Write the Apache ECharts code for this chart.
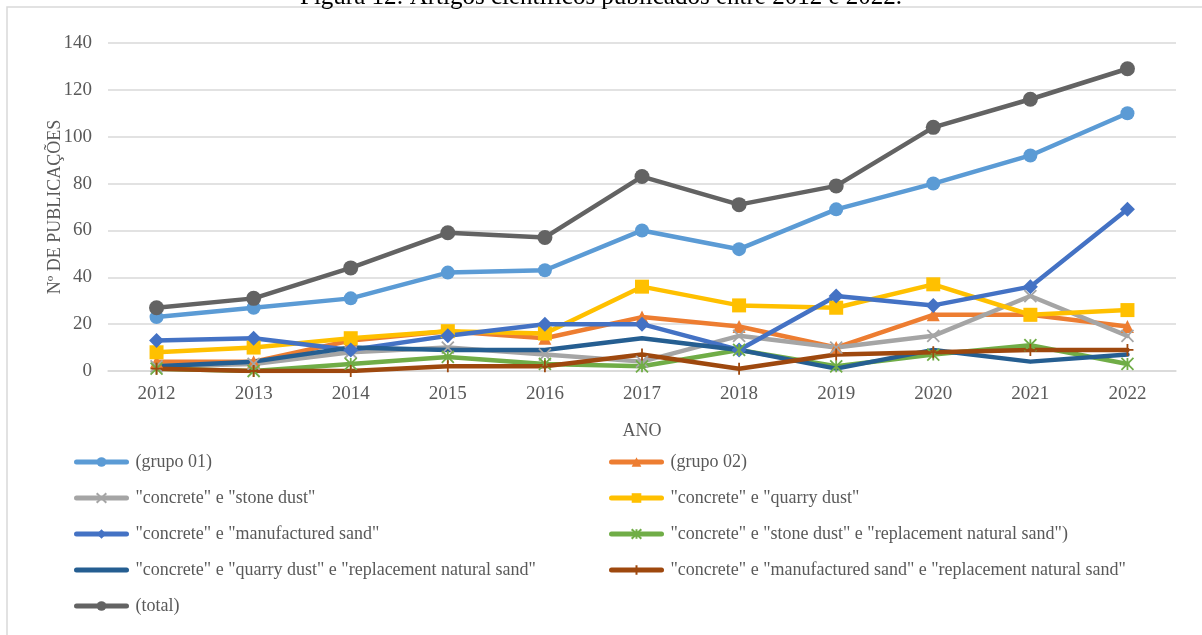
<!DOCTYPE html>
<html>
<head>
<meta charset="utf-8">
<title>Artigos científicos publicados entre 2012 e 2022</title>
<script src="https://cdn.jsdelivr.net/npm/echarts@6/dist/echarts.min.js"></script>
<style>
  html, body { margin: 0; padding: 0; background: #ffffff; }
  #chart { width: 1202px; height: 635px; }
</style>
</head>
<body>
<div id="chart"></div>
<script>
// Publication counts per year
const years = ['2012', '2013', '2014', '2015', '2016', '2017', '2018', '2019', '2020', '2021', '2022'];
const yTicks = [0, 20, 40, 60, 80, 100, 120, 140];

const grupo01     = [23, 27, 31, 42, 43, 60, 52, 69, 80, 92, 110];
const grupo02     = [4, 4, 13, 17, 14, 23, 19, 10, 24, 24, 19];
const stoneDust   = [2, 3, 8, 10, 7, 4, 15, 10, 15, 32, 15];
const quarryDust  = [8, 10, 14, 17, 16, 36, 28, 27, 37, 24, 26];
const manufSand   = [13, 14, 9, 15, 20, 20, 9, 32, 28, 36, 69];
const stoneRepl   = [1, 0, 3, 6, 3, 2, 9, 2, 7, 11, 3];
const quarryRepl  = [2, 4, 10, 9, 9, 14, 9, 1, 9, 4, 7];
const manufRepl   = [1, 0, 0, 2, 2, 7, 1, 7, 8, 9, 9];
const total       = [27, 31, 44, 59, 57, 83, 71, 79, 104, 116, 129];

const names = [
  '(grupo 01)',
  '(grupo 02)',
  '"concrete" e "stone dust"',
  '"concrete" e "quarry dust"',
  '"concrete" e "manufactured sand"',
  '"concrete" e "stone dust" e "replacement natural sand")',
  '"concrete" e "quarry dust" e "replacement natural sand"',
  '"concrete" e "manufactured sand" e "replacement natural sand"',
  '(total)'
];

const FONT = '"Liberation Serif", "DejaVu Serif", serif';
const TXT = '#595959';

const crossPath = 'path://M0,0L10,10M10,0L0,10';
const starPath = 'path://M0,0L10,10M10,0L0,10M5,0L5,10';
const plusPath = 'path://M5,-1L5,11M0,5L10,5';

function line(name, data, color, symbol, size, stroked) {
  const s = {
    name: name,
    type: 'line',
    data: data,
    symbol: symbol,
    symbolSize: size,
    showSymbol: symbol !== 'none',
    lineStyle: { color: color, width: 4.5, cap: 'round', join: 'round' },
    itemStyle: { color: color },
    emphasis: { disabled: true },
    animation: false
  };
  if (stroked) {
    s.itemStyle = { color: color, borderColor: color, borderWidth: 1.8 };
  }
  return s;
}

const series = [
  line(names[0], grupo01, '#5B9BD5', 'circle', 14),
  line(names[1], grupo02, '#ED7D31', 'triangle', 13),
  line(names[2], stoneDust, '#A5A5A5', crossPath, 12, true),
  line(names[3], quarryDust, '#FFC000', 'rect', 14),
  line(names[4], manufSand, '#4472C4', 'diamond', 15),
  line(names[5], stoneRepl, '#70AD47', starPath, 12, true),
  line(names[6], quarryRepl, '#255E91', 'none', 0),
  line(names[7], manufRepl, '#9E480E', plusPath, 12, true),
  line(names[8], total, '#636363', 'circle', 15)
];

const legendBase = {
  orient: 'vertical',
  top: 452,
  padding: 0,
  itemWidth: 50,
  itemHeight: 12,
  itemGap: 16,
  selectedMode: false,
  lineStyle: { width: 5, cap: 'round' },
  textStyle: { fontFamily: FONT, fontSize: 18, color: TXT, lineHeight: 20, padding: [0, 0, 0, 4] }
};

const chart = echarts.init(document.getElementById('chart'), null, { renderer: 'canvas' });
chart.setOption({
  backgroundColor: '#ffffff',
  animation: false,
  textStyle: { fontFamily: FONT },
  grid: { left: 108, right: 26, top: 43, bottom: 264 },
  legend: [
    Object.assign({}, legendBase, {
      left: 74,
      data: [names[0], names[2], names[4], { name: names[6], itemStyle: { opacity: 0 } }, names[8]]
    }),
    Object.assign({}, legendBase, { left: 609, data: [names[1], names[3], names[5], names[7]] })
  ],
  xAxis: {
    type: 'category',
    data: years,
    boundaryGap: true,
    name: 'ANO',
    nameLocation: 'middle',
    nameGap: 51,
    nameTextStyle: { fontFamily: FONT, fontSize: 18, color: TXT },
    axisLine: { show: true, lineStyle: { color: '#D9D9D9', width: 1.5 } },
    axisTick: { show: false },
    axisLabel: { fontFamily: FONT, fontSize: 19, color: TXT, margin: 14 }
  },
  yAxis: {
    type: 'value',
    min: yTicks[0],
    max: yTicks[yTicks.length - 1],
    interval: 20,
    name: 'Nº DE PUBLICAÇÕES',
    nameLocation: 'middle',
    nameGap: 44,
    nameMoveOverlap: false,
    nameTextStyle: { fontFamily: FONT, fontSize: 18, color: TXT },
    axisLine: { show: false },
    axisTick: { show: false },
    splitLine: { lineStyle: { color: '#D9D9D9', width: 1.5 } },
    axisLabel: { fontFamily: FONT, fontSize: 19, color: TXT, margin: 16 }
  },
  graphic: [
    {
      type: 'rect',
      silent: true,
      shape: { x: 7, y: 7, width: 1220, height: 660 },
      style: { fill: null, stroke: '#D9D9D9', lineWidth: 1.5 }
    },
    {
      type: 'text',
      silent: true,
      left: 'center',
      top: -15,
      style: {
        text: 'Figura 12: Artigos científicos publicados entre 2012 e 2022.',
        fontFamily: FONT,
        fontSize: 25,
        fill: '#000000'
      }
    }
  ],
  series: series
});
</script>
</body>
</html>
